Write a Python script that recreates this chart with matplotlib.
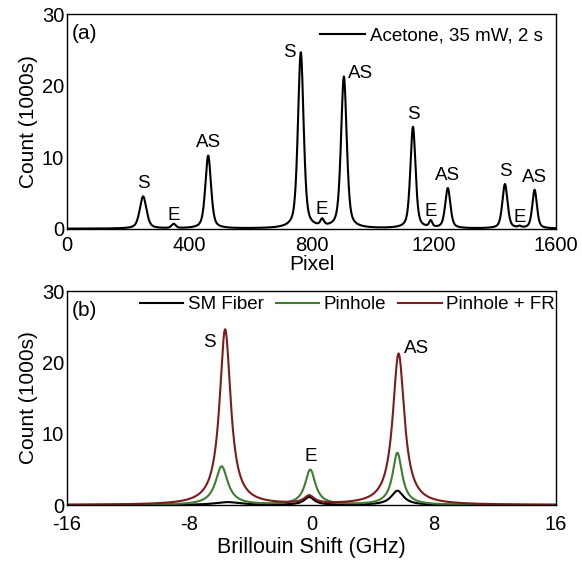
import numpy as np
import matplotlib
matplotlib.use("Agg")
import matplotlib.pyplot as plt

plt.rcParams['font.family'] = ['Liberation Sans', 'DejaVu Sans']
plt.rcParams['axes.unicode_minus'] = False

# --- panel (a): acetone spectrum, peaks ---
pix_centers = [249, 349, 462, 765, 835, 906, 1132, 1190, 1246, 1433, 1481, 1530]
pix_heights = [4.5, 0.6, 10.2, 24.6, 0.9, 21.2, 14.2, 0.9, 5.6, 6.2, 0.2, 5.4]
pix_widths = [13, 8, 11, 11, 7, 11, 10, 6, 10, 10, 6, 9]
pix_labels = ["S", "E", "AS", "S", "E", "AS", "S", "E", "AS", "S", "E", "AS"]

# --- panel (b): Brillouin shift, three set-ups ---
fr_centers = [-5.65, -0.15, 5.70]
fr_heights = [24.6, 1.1, 21.2]
fr_widths = [0.44, 0.4, 0.46]
ph_centers = [-5.88, -0.08, 5.62]
ph_heights = [5.4, 4.9, 7.3]
ph_widths = [0.49, 0.41, 0.38]
sm_centers = [-5.5, -0.15, 5.62]
sm_heights = [0.4, 1.1, 2.0]
sm_widths = [1.0, 0.4, 0.49]


def lorentz(x, centers, heights, widths):
    y = np.zeros_like(x)
    for c, h, w in zip(centers, heights, widths):
        y += h / (1 + ((x - c) / w) ** 2)
    return y


def pvoigt(x, centers, heights, widths, eta=0.5):
    y = np.zeros_like(x)
    for c, h, w in zip(centers, heights, widths):
        u = (x - c) / w
        y += h * (eta / (1 + u ** 2) + (1 - eta) * np.exp(-np.log(2) * u ** 2))
    return y


fig = plt.figure(figsize=(5.82, 5.63), dpi=100)
ax1 = fig.add_axes([0.1151, 0.5938, 0.8402, 0.3808])
ax2 = fig.add_axes([0.1151, 0.1030, 0.8402, 0.3801])

# top panel
px = np.linspace(0, 1600, 5000)
py = pvoigt(px, pix_centers, pix_heights, pix_widths)
ax1.plot(px, py, color="black", lw=1.5, label="Acetone, 35 mW, 2 s")

for i, (c, lab) in enumerate(zip(pix_centers, pix_labels)):
    top = pvoigt(np.array([c], float), pix_centers, pix_heights, pix_widths)[0]
    if i == 3:
        ax1.annotate(lab, (c, top), xytext=(-8, 0), textcoords="offset points",
                     ha="center", va="center", fontsize=13.5)
    elif i == 5:
        ax1.annotate(lab, (c, top), xytext=(12, 2), textcoords="offset points",
                     ha="center", va="center", fontsize=13.5)
    else:
        dy = 0 if lab == "E" else 3
        ax1.annotate(lab, (c, top), xytext=(0, dy), textcoords="offset points",
                     ha="center", va="bottom", fontsize=13.5)

ax1.set_xlim(0, 1600)
ax1.set_ylim(0, 30)
ax1.set_xticks([0, 400, 800, 1200, 1600])
ax1.set_yticks([0, 10, 20, 30])
ax1.set_xlabel("Pixel", fontsize=15, labelpad=0)
ax1.set_ylabel("Count (1000s)", fontsize=15, labelpad=3)
ax1.text(0.01, 0.955, "(a)", transform=ax1.transAxes, fontsize=15, va="top")
ax1.legend(loc="upper right", frameon=False, fontsize=13.5, handlelength=2.4,
           handletextpad=0.25, borderaxespad=0.3)

# bottom panel
bx = np.linspace(-16, 16, 5000)
sm = lorentz(bx, sm_centers, sm_heights, sm_widths)
ph = lorentz(bx, ph_centers, ph_heights, ph_widths)
fr = lorentz(bx, fr_centers, fr_heights, fr_widths)
ax2.plot(bx, sm, color="black", lw=1.5, label="SM Fiber")
ax2.plot(bx, ph, color="#3f7d32", lw=1.5, label="Pinhole")
ax2.plot(bx, fr, color="#7a1c1c", lw=1.5, label="Pinhole + FR")

ax2.annotate("S", (fr_centers[0], fr_heights[0]), xytext=(-11, -9),
             textcoords="offset points", ha="center", va="center", fontsize=13.5)
ax2.annotate("E", (ph_centers[1], ph_heights[1]), xytext=(0, 4),
             textcoords="offset points", ha="center", va="bottom", fontsize=13.5)
ax2.annotate("AS", (fr_centers[2], fr_heights[2]), xytext=(13, 4),
             textcoords="offset points", ha="center", va="center", fontsize=13.5)

ax2.set_xlim(-16, 16)
ax2.set_ylim(0, 30)
ax2.set_xticks([-16, -8, 0, 8, 16])
ax2.set_yticks([0, 10, 20, 30])
ax2.set_xlabel("Brillouin Shift (GHz)", fontsize=15.5, labelpad=2)
ax2.set_ylabel("Count (1000s)", fontsize=15, labelpad=3)
ax2.text(0.01, 0.955, "(b)", transform=ax2.transAxes, fontsize=15, va="top")
ax2.legend(loc="upper right", bbox_to_anchor=(1.0, 0.98), frameon=False,
           fontsize=13.5, ncol=3, handlelength=2.3, handletextpad=0.25,
           columnspacing=0.65, borderaxespad=0.0, borderpad=0.05)

for ax in (ax1, ax2):
    ax.tick_params(length=0, labelsize=14.5)
    ax.tick_params(axis="x", pad=5)
    ax.tick_params(axis="y", pad=2)
    for sp in ax.spines.values():
        sp.set_linewidth(1.0)
ax2.tick_params(axis="x", pad=7)

fig.savefig("out.png", dpi=100)
